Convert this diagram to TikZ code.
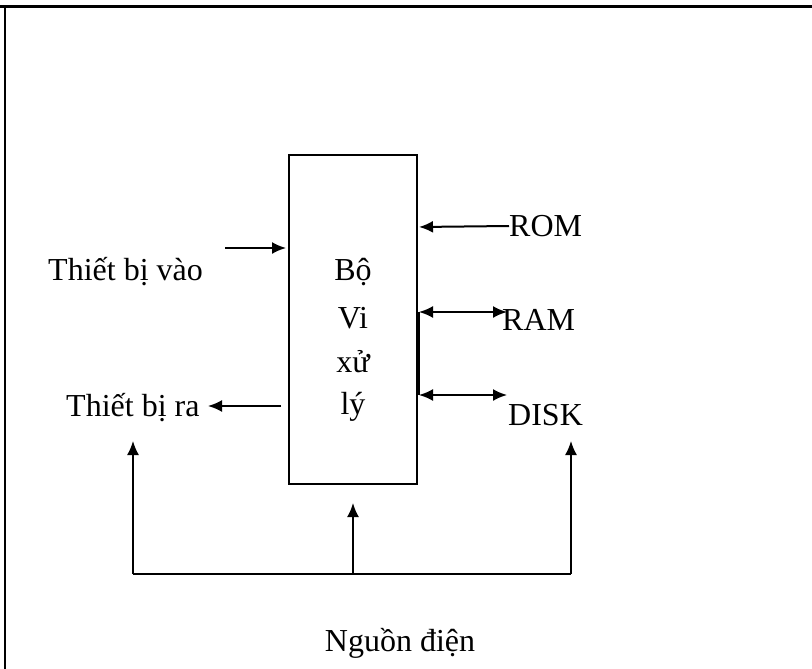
\documentclass[tikz,border=0pt]{standalone}
\usepackage{fontspec}
\setmainfont{Liberation Serif}
\usetikzlibrary{arrows.meta}
\begin{document}
\begin{tikzpicture}[x=1pt,y=-1pt,
  lbl/.style={inner sep=0pt,font=\fontsize{32}{38}\selectfont},
  conn/.style={line width=2pt},
  tip/.style={-{Latex[length=14pt,width=12pt]}},
  both/.style={{Latex[length=14pt,width=12pt]}-{Latex[length=14pt,width=12pt]}}]
\useasboundingbox (0,0) rectangle (812,669);
% frame
\draw[line width=3pt] (0,7) -- (812,7);
\draw[line width=2pt] (5,7) -- (5,669);
% processor box
\node[draw,line width=2pt,minimum width=128pt,minimum height=329pt,inner sep=0pt] (cpu) at (353,319.5) {};
\node[lbl] (t1) at (353,272) {Bộ};
\node[lbl] (t2) at (353,318) {Vi};
\node[lbl] (t3) at (353,362) {xử};
\node[lbl] (t4) at (353,407) {lý};
% labels
\node[lbl,anchor=west] (vao) at (48,272) {Thiết bị vào};
\node[lbl,anchor=west] (ra) at (66,408) {Thiết bị ra};
\node[lbl,anchor=west] (rom) at (509,226) {ROM};
\node[lbl,anchor=west] (ram) at (502,320) {RAM};
\node[lbl,anchor=west] (disk) at (508,415) {DISK};
\node[lbl] (nguon) at (400,643) {Nguồn điện};
% coordinates
\coordinate (vaoS) at (225,248);
\coordinate (vaoE) at (cpu.west |- 0,248);
\coordinate (raS) at (cpu.west |- 0,406);
\coordinate (raE) at (208,406);
\coordinate (romE) at (cpu.east |- 0,227);
\coordinate (ramA) at (cpu.east |- 0,312);
\coordinate (ramB) at (507,312);
\coordinate (diskA) at (cpu.east |- 0,395);
\coordinate (diskB) at (507,395);
\coordinate (bl) at (133,574);
\coordinate (bc) at (353,574);
\coordinate (br) at (571,574);
\coordinate (blT) at (133,441);
\coordinate (bcT) at (353,503);
\coordinate (brT) at (571,441);
% connectors
\draw[conn,tip] (vaoS) -- ([xshift=-2pt]vaoE);
\draw[conn,tip] ([xshift=-7pt]raS) -- (raE);
\draw[conn,tip] (rom.west) -- ([xshift=1pt]romE);
\draw[conn,both] ([xshift=1pt]ramA) -- (ramB);
\draw[conn,both] ([xshift=1pt]diskA) -- (diskB);
\draw[line width=3pt] (ramA) -- (diskA);
\draw[line width=2.5pt] (bl) -- (br);
\draw[line width=1.6pt,tip] (bl) -- (blT);
\draw[line width=2pt,tip] (bc) -- (bcT);
\draw[line width=1.6pt,tip] (br) -- (brT);
\end{tikzpicture}
\end{document}
